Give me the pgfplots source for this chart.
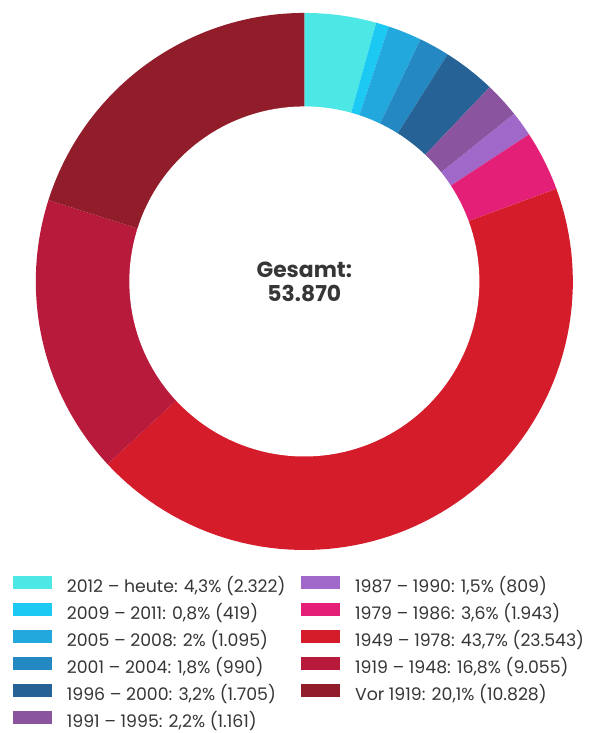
\documentclass[border=0pt]{standalone}
\usepackage{pgfplots}
\usepackage{pgfplotstable}
\pgfplotsset{compat=1.18}
\usepackage{fontspec}
\setmainfont{Poppins}

\definecolor{c1}{HTML}{4DE8E6}
\definecolor{c2}{HTML}{1BC9F2}
\definecolor{c3}{HTML}{22A8DC}
\definecolor{c4}{HTML}{2488C3}
\definecolor{c5}{HTML}{276296}
\definecolor{c6}{HTML}{8A559E}
\definecolor{c7}{HTML}{A068C8}
\definecolor{c8}{HTML}{E41F77}
\definecolor{c9}{HTML}{D51C2B}
\definecolor{c10}{HTML}{B81A3C}
\definecolor{c11}{HTML}{911C2A}
\definecolor{textgray}{HTML}{363636}

% Wohnungen nach Baujahr, im Uhrzeigersinn ab 12 Uhr
\pgfplotstableread{
count col
2322  c1
419   c2
1095  c3
990   c4
1705  c5
1161  c6
809   c7
1943  c8
23543 c9
9055  c10
10828 c11
}\agetable

\begin{document}
\begin{tikzpicture}
\begin{axis}[
  x=1pt, y=1pt,
  hide axis, clip=false,
  xmin=-306, xmax=292, ymin=-450, ymax=283,
  legend columns=2,
  legend cell align=left,
  legend style={at={(axis cs:-293,-296)}, anchor=north west, draw=none, fill=none,
    inner sep=0pt, font=\fontsize{17.4}{20}\selectfont, text=textgray, row sep=7.4pt,
    nodes={inner sep=0pt, text height=12pt, text depth=3.5pt},
    /tikz/every odd column/.append style={column sep=15pt},
    /tikz/every even column/.append style={column sep=16pt}},
]
\coordinate (bl) at (axis cs:-306,-454);
\coordinate (tr) at (axis cs:292,283);
\def\cum{0}
\pgfplotstablegetrowsof{\agetable}
\pgfmathtruncatemacro\lastrow{\pgfplotsretval-1}
\pgfplotsforeachungrouped \i in {0,...,\lastrow}{
  \pgfplotstablegetelem{\i}{count}\of\agetable \let\slicev\pgfplotsretval
  \pgfplotstablegetelem{\i}{col}\of\agetable \let\slicecol\pgfplotsretval
  \edef\angA{\fpeval{90-360*(\cum+\slicev)/53870}}
  \edef\angB{\fpeval{90-360*\cum/53870}}
  \edef\cum{\fpeval{\cum+\slicev}}
  \edef\temp{\noexpand\addplot[fill=\slicecol, draw=none, domain=\angA:\angB, samples=80, forget plot]
    ({270*cos(x)},{270*sin(x)}) -- (0,0) -- cycle;}
  \temp
}
\addplot[fill=white, draw=none, domain=0:360, samples=160, forget plot]
  ({176*cos(x)},{176*sin(x)}) -- cycle;
\pgfplotsset{legend image code/.code={\fill[#1] (0pt,-1pt) rectangle (39pt,12pt);}}
\addlegendimage{fill=c1, draw=none}\addlegendentry{2012 -- heute: 4,3\% (2.322)}
\addlegendimage{fill=c7, draw=none}\addlegendentry{1987 -- 1990: 1,5\% (809)}
\addlegendimage{fill=c2, draw=none}\addlegendentry{2009 -- 2011: 0,8\% (419)}
\addlegendimage{fill=c8, draw=none}\addlegendentry{1979 -- 1986: 3,6\% (1.943)}
\addlegendimage{fill=c3, draw=none}\addlegendentry{2005 -- 2008: 2\% (1.095)}
\addlegendimage{fill=c9, draw=none}\addlegendentry{1949 -- 1978: 43,7\% (23.543)}
\addlegendimage{fill=c4, draw=none}\addlegendentry{2001 -- 2004: 1,8\% (990)}
\addlegendimage{fill=c10, draw=none}\addlegendentry{1919 -- 1948: 16,8\% (9.055)}
\addlegendimage{fill=c5, draw=none}\addlegendentry{1996 -- 2000: 3,2\% (1.705)}
\addlegendimage{fill=c11, draw=none}\addlegendentry{Vor 1919: 20,1\% (10.828)}
\addlegendimage{fill=c6, draw=none}\addlegendentry{1991 -- 1995: 2,2\% (1.161)}
\node[font=\fontsize{22}{24}\selectfont\bfseries, text=textgray, align=center]
  at (axis cs:0,0) {Gesamt:\\53.870};
\end{axis}
\pgfresetboundingbox
\path[use as bounding box] (bl) rectangle (tr);
\end{tikzpicture}
\end{document}
